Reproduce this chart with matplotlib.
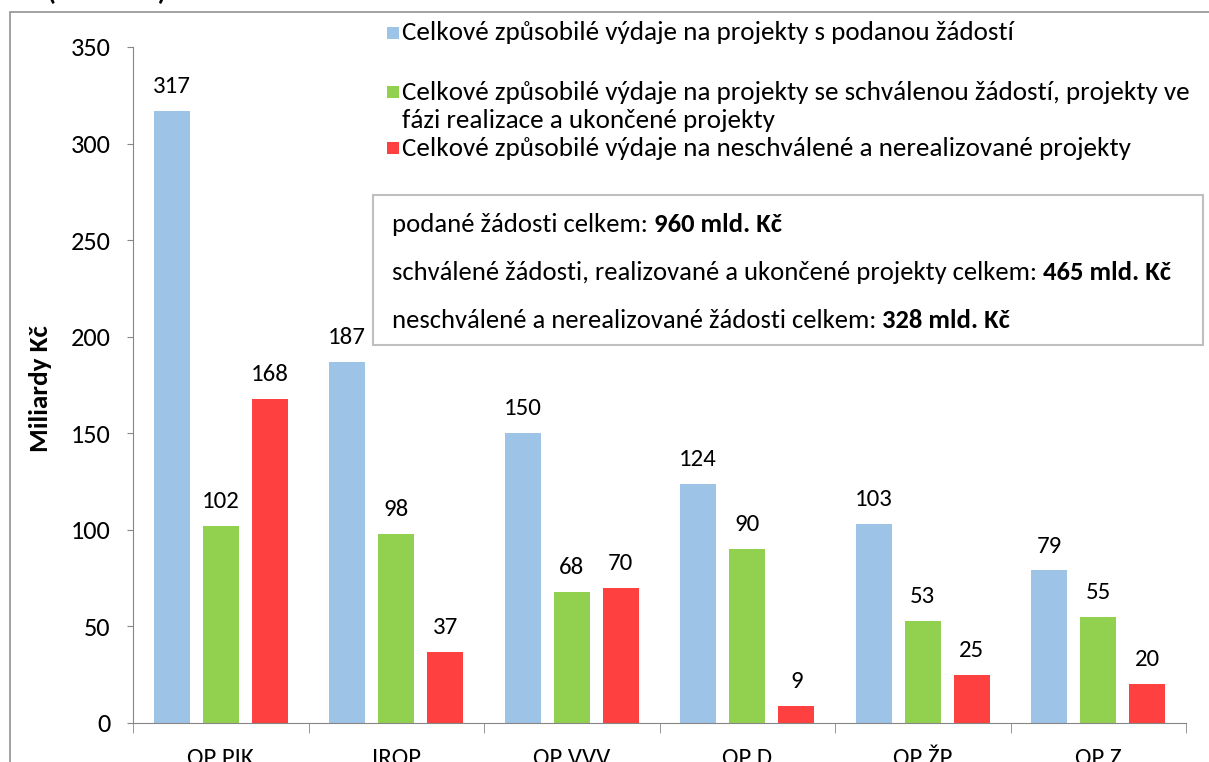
import matplotlib
matplotlib.use("Agg")
import matplotlib.pyplot as plt
import matplotlib.patches as mpatches
from matplotlib import font_manager
import numpy as np

_avail = {f.name for f in font_manager.fontManager.ttflist}
_main = "Carlito" if "Carlito" in _avail else "Lato"
plt.rcParams['font.family'] = [_main, 'DejaVu Sans']
_k = 1.0 if _main == "Lato" else 1.12

categories = ["OP PIK", "IROP", "OP VVV", "OP D", "OP ŽP", "OP Z"]
podane = [317, 187, 150, 124, 103, 79]
schvalene = [102, 98, 68, 90, 53, 55]
neschvalene = [168, 37, 70, 9, 25, 20]
series_labels = [
    "Celkové způsobilé výdaje na projekty s podanou žádostí",
    "Celkové způsobilé výdaje na projekty se schválenou žádostí, projekty ve\nfázi realizace a ukončené projekty",
    "Celkové způsobilé výdaje na neschválené a nerealizované projekty",
]
colors = ["#9DC3E6", "#92D050", "#FF4040"]
box_lines = [
    ("podané žádosti celkem: ", "960 mld. Kč"),
    ("schválené žádosti, realizované a ukončené projekty celkem: ", "465 mld. Kč"),
    ("neschválené a nerealizované žádosti celkem: ", "328 mld. Kč"),
]
ylabel = "Miliardy Kč"
title_fragment = "č (v mld. Kč)"
yticks = [0, 50, 100, 150, 200, 250, 300, 350]

W, H = 1209, 762
fig = plt.figure(figsize=(W / 100, H / 100), dpi=100)

def fx(px):
    return px / W

def fy(py):
    return 1 - py / H

fs_leg = 17.4 * _k
fs_box = 17.1 * _k
fs_num = 16 * _k
fs_tick = 17 * _k
fs_cat = 16 * _k

ax = fig.add_axes([fx(133), fy(723), fx(1186) - fx(133), fy(47) - fy(723)])
x = np.arange(len(categories))
width = 0.206
step = 0.28
for i, (vals, c) in enumerate(zip([podane, schvalene, neschvalene], colors)):
    bars = ax.bar(x + (i - 1) * step, vals, width=width, color=c, zorder=2)
    for b, v in zip(bars, vals):
        ax.annotate(str(v), (b.get_x() + b.get_width() / 2, v), xytext=(0, 10),
                    textcoords="offset points", ha="center", va="bottom", fontsize=fs_num)

ax.set_xlim(-0.5, len(categories) - 0.5)
ax.set_ylim(0, 350)
ax.set_yticks(yticks)
ax.set_xticks(x)
ax.set_xticklabels(categories, fontsize=fs_cat)
ax.set_xticks(np.arange(len(categories) + 1) - 0.5, minor=True)
ax.tick_params(axis='x', which='major', length=0, pad=18)
ax.tick_params(axis='x', which='minor', length=7, color="#868686", direction='out')
ax.tick_params(axis='y', length=4, color="#868686", pad=12, labelsize=fs_tick)
for s in ["top", "right"]:
    ax.spines[s].set_visible(False)
for s in ["left", "bottom"]:
    ax.spines[s].set_color("#868686")

fig.text(fx(40), fy(389), ylabel, rotation=90, ha="center", va="center",
         fontsize=fs_leg, fontweight="bold")

# outer frame of the chart area
fig.patches.append(mpatches.Rectangle((fx(10), -0.1), 1.2, fy(12) + 0.1, fill=False,
                                      edgecolor="#9A9A9A", linewidth=1.3,
                                      transform=fig.transFigure))
# partially visible title (cut by the top edge)
fig.text(fx(30), 1.0 - 0.5 / H, title_fragment, fontsize=fs_leg, fontweight="bold",
         ha="left", va="baseline")

# legend
leg_rows = [[33], [92, 120], [148]]
for rows, lab, c in zip(leg_rows, series_labels, colors):
    fig.patches.append(mpatches.Rectangle((fx(387), fy(rows[0] + 6)), fx(12), 12 / H,
                                          facecolor=c, edgecolor="none",
                                          transform=fig.transFigure))
    for ly, part in zip(rows, lab.split("\n")):
        fig.text(fx(402), fy(ly), part, fontsize=fs_leg, ha="left", va="center")

# text box
fig.patches.append(mpatches.Rectangle((fx(373), fy(345)), fx(1203) - fx(373), fy(195) - fy(345),
                                      facecolor="white", edgecolor="#BFBFBF", linewidth=1.5,
                                      transform=fig.transFigure, zorder=5))
fig.canvas.draw()
renderer = fig.canvas.get_renderer()
for ly, (normal, bold) in zip([224, 272, 320], box_lines):
    t1 = fig.text(fx(392), fy(ly), normal, fontsize=fs_box, ha="left", va="center", zorder=6)
    bb = t1.get_window_extent(renderer)
    fig.text(bb.x1 / W, fy(ly), bold, fontsize=fs_box, fontweight="bold",
             ha="left", va="center", zorder=6)

fig.savefig("out.png", dpi=100)
